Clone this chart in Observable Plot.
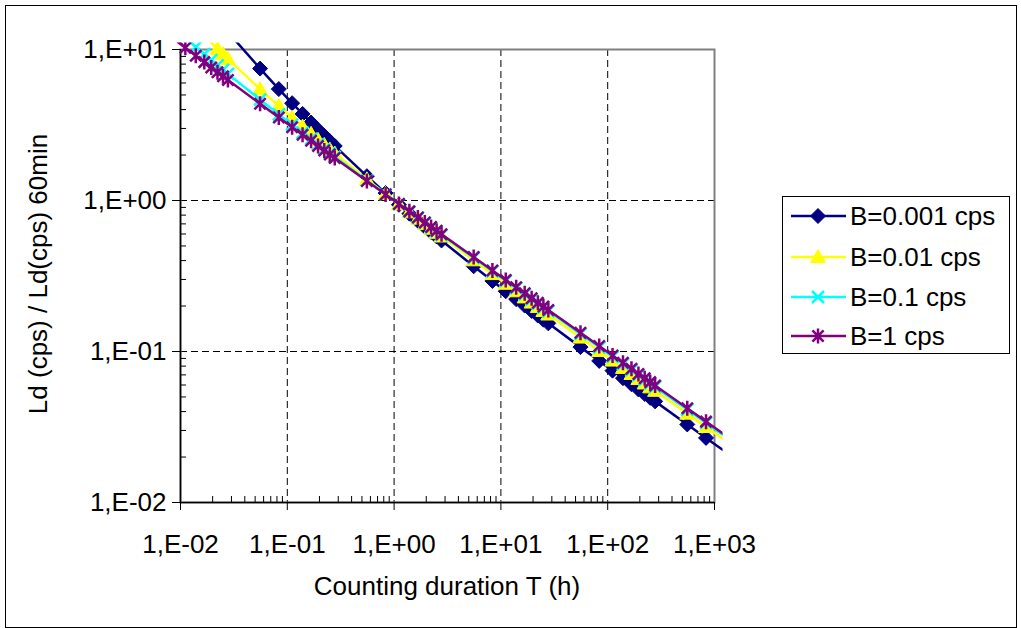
<!DOCTYPE html>
<html>
<head>
<meta charset="utf-8">
<script src="https://cdn.jsdelivr.net/npm/d3@7"></script>
<script src="https://cdn.jsdelivr.net/npm/@observablehq/plot@0.6"></script>
<style>
  body { margin: 0; background: #fff; }
  #wrap { position: relative; width: 1021px; height: 628px; overflow: hidden; font-family: "Liberation Sans", Arial, sans-serif; background:#fff; }
  #outer { position: absolute; left: 5px; top: 5px; width: 1010px; height: 621px; border: 1px solid #000; }
  #chart { position: absolute; left: 0; top: 0; }
  #legend { position: absolute; left: 782px; top: 196px; width: 226px; height: 156px; border: 1px solid #000; background: #fff; }
</style>
</head>
<body>
<div id="wrap">
  <div id="outer"></div>
  <div id="chart"></div>
  <div id="legend"></div>
</div>
<script>
// Counting duration T (h)
const durationH = [0.00833, 0.0111, 0.0139, 0.0167, 0.0194, 0.0222, 0.025, 0.0278,
  0.0556, 0.0833, 0.111, 0.139, 0.167, 0.194, 0.222, 0.25, 0.278,
  0.556, 0.833, 1.11, 1.39, 1.67, 1.94, 2.22, 2.5, 2.78,
  5.56, 8.33, 11.1, 13.9, 16.7, 19.4, 22.2, 25, 27.8,
  55.6, 83.3, 111, 139, 167, 194, 222, 250, 278,
  556, 833, 1111, 1389];

// Ld(cps) / Ld(cps) 60min for each background
const b0001 = [36.58, 28.41, 23.41, 20.02, 17.57, 15.71, 14.24, 13.05,
  7.475, 5.470, 4.410, 3.745, 3.284, 2.943, 2.680, 2.470, 2.297,
  1.449, 1.120, 0.9372, 0.8183, 0.7336, 0.6695, 0.6189, 0.5778, 0.5436,
  0.3669, 0.2932, 0.2507, 0.2222, 0.2015, 0.1856, 0.1729, 0.1624, 0.1536,
  0.1069, 0.08662, 0.07469, 0.06661, 0.06067, 0.05607, 0.05238, 0.04932, 0.04675,
  0.03288, 0.02678, 0.02316, 0.02070];
const b001 = [20.61, 16.61, 14.11, 12.37, 11.09, 10.10, 9.306, 8.656,
  5.461, 4.220, 3.531, 3.083, 2.764, 2.522, 2.332, 2.177, 2.048,
  1.382, 1.105, 0.9444, 0.8371, 0.7591, 0.6992, 0.6513, 0.6119, 0.5788,
  0.4026, 0.3264, 0.2814, 0.2509, 0.2286, 0.2113, 0.1973, 0.1858, 0.1761,
  0.1239, 0.1009, 0.08727, 0.07798, 0.07113, 0.06582, 0.06154, 0.05800, 0.05501,
  0.03883, 0.03168, 0.02742, 0.02452];
const b01 = [14.20, 11.89, 10.38, 9.303, 8.490, 7.849, 7.328, 6.894,
  4.653, 3.718, 3.179, 2.818, 2.555, 2.353, 2.192, 2.060, 1.948,
  1.355, 1.099, 0.9472, 0.8447, 0.7694, 0.7111, 0.6642, 0.6255, 0.5928,
  0.4170, 0.3397, 0.2937, 0.2625, 0.2394, 0.2216, 0.2072, 0.1952, 0.1852,
  0.1307, 0.1066, 0.09231, 0.08254, 0.07533, 0.06973, 0.06522, 0.06148, 0.05832,
  0.04122, 0.03364, 0.02913, 0.02605];
const b1 = [12.00, 10.26, 9.096, 8.249, 7.597, 7.077, 6.649, 6.289,
  4.375, 3.546, 3.058, 2.727, 2.484, 2.295, 2.144, 2.019, 1.914,
  1.346, 1.096, 0.9482, 0.8473, 0.7729, 0.7152, 0.6687, 0.6302, 0.5977,
  0.4219, 0.3442, 0.2980, 0.2664, 0.2432, 0.2251, 0.2105, 0.1985, 0.1883,
  0.1330, 0.1086, 0.09404, 0.08411, 0.07677, 0.07107, 0.06648, 0.06268, 0.05946,
  0.04204, 0.03432, 0.02972, 0.02658];

const seriesNames = ["B=0.001 cps", "B=0.01 cps", "B=0.1 cps", "B=1 cps"];
const seriesColors = ["#000080", "#FFFF00", "#00FFFF", "#800080"];
const seriesValues = [b0001, b001, b01, b1];

const xTicks = [0.01, 0.1, 1, 10, 100, 1000];
const xTickLabels = ["1,E-02", "1,E-01", "1,E+00", "1,E+01", "1,E+02", "1,E+03"];
const yTicks = [0.01, 0.1, 1, 10];
const yTickLabels = ["1,E-02", "1,E-01", "1,E+00", "1,E+01"];
const xMinor = [0.02,0.03,0.04,0.05,0.06,0.07,0.08,0.09, 0.2,0.3,0.4,0.5,0.6,0.7,0.8,0.9,
  2,3,4,5,6,7,8,9, 20,30,40,50,60,70,80,90, 200,300,400,500,600,700,800,900];
const yMinor = [0.02,0.03,0.04,0.05,0.06,0.07,0.08,0.09, 0.2,0.3,0.4,0.5,0.6,0.7,0.8,0.9,
  2,3,4,5,6,7,8,9];

// custom Excel-like marker shapes
const symDiamond = { draw(c, size) { const r = Math.sqrt(size / Math.PI); c.moveTo(0, -r); c.lineTo(r, 0); c.lineTo(0, r); c.lineTo(-r, 0); c.closePath(); } };
const symTriangle = { draw(c, size) { const r = Math.sqrt(size / Math.PI); c.moveTo(0, -r); c.lineTo(r, r * 0.75); c.lineTo(-r, r * 0.75); c.closePath(); } };
const symTimes = { draw(c, size) { const r = Math.sqrt(size / Math.PI) * 0.8; c.moveTo(-r, -r); c.lineTo(r, r); c.moveTo(-r, r); c.lineTo(r, -r); } };
const symAsterisk = { draw(c, size) { const r = Math.sqrt(size / Math.PI); const k = r * 0.75; c.moveTo(-k, -k); c.lineTo(k, k); c.moveTo(-k, k); c.lineTo(k, -k); c.moveTo(0, -r); c.lineTo(0, r); } };
const seriesSymbols = [symDiamond, symTriangle, symTimes, symAsterisk];
const seriesFilled = [true, true, false, false];

const xLab = new Map(xTicks.map((t, i) => [t, xTickLabels[i]]));
const yLab = new Map(yTicks.map((t, i) => [t, yTickLabels[i]]));

const seriesMarks = [];
seriesValues.forEach((vals, s) => {
  const data = durationH.map((t, i) => ({ T: t, v: vals[i] }));
  seriesMarks.push(Plot.line(data, { x: "T", y: "v", stroke: seriesColors[s], strokeWidth: 2.5 }));
  seriesMarks.push(Plot.dot(data, {
    x: "T", y: "v", r: 7.5, symbol: seriesSymbols[s],
    filter: d => d.T <= 1000 && d.v <= 10.5,
    fill: seriesFilled[s] ? seriesColors[s] : "none",
    stroke: seriesColors[s], strokeWidth: seriesFilled[s] ? 1 : 2.5
  }));
});

const chart = Plot.plot({
  width: 1021, height: 628,
  marginLeft: 180, marginRight: 307, marginTop: 49, marginBottom: 126,
  style: { fontFamily: "'Liberation Sans', Arial, sans-serif", fontSize: "26px", color: "#000", background: "transparent", overflow: "visible" },
  x: { type: "log", domain: [0.01, 1000], label: null },
  y: { type: "log", domain: [0.01, 10], label: null },
  marks: [
    Plot.ruleX(xTicks.slice(1, -1), { stroke: "#000", strokeDasharray: "7,4", strokeWidth: 1 }),
    Plot.ruleY(yTicks.slice(1, -1), { stroke: "#000", strokeDasharray: "7,4", strokeWidth: 1 }),
    Plot.frame({ stroke: "#808080", strokeWidth: 2 }),
    Plot.ruleX([0.01], { stroke: "#000", strokeWidth: 1.5 }),
    Plot.ruleY([0.01], { stroke: "#000", strokeWidth: 1.5 }),
    Plot.tickX(xMinor, { x: d => d, insetTop: 447, stroke: "#000" }),
    Plot.tickY(yMinor, { y: d => d, insetRight: 528, stroke: "#000" }),
    Plot.axisX({ ticks: xTicks, tickFormat: d => xLab.get(d), tickSize: 8, tickPadding: 24, fontSize: 26, label: null }),
    Plot.axisY({ ticks: yTicks, tickFormat: d => yLab.get(d), tickSize: 8, tickPadding: 6, fontSize: 26, label: null }),
    ...seriesMarks
  ]
});

document.getElementById("chart").appendChild(chart);

const svg = d3.select(chart);
const defs = svg.insert("defs", ":first-child");
defs.append("clipPath").attr("id", "plotclip").append("rect")
  .attr("x", 176).attr("y", 42).attr("width", 546).attr("height", 470);
svg.selectAll('g[aria-label="line"], g[aria-label="dot"]').attr("clip-path", "url(#plotclip)");

svg.append("text").attr("transform", "translate(40,274) rotate(-90)")
  .attr("text-anchor", "middle").attr("dominant-baseline", "middle")
  .attr("font-size", 26).attr("fill", "#000").text("Ld (cps) / Ld(cps) 60min");
svg.append("text").attr("x", 447).attr("y", 595)
  .attr("text-anchor", "middle").attr("font-size", 26).attr("fill", "#000")
  .text("Counting duration T (h)");

// legend
const lg = d3.select("#legend").append("svg").attr("width", 226).attr("height", 156)
  .style("font-family", "'Liberation Sans', Arial, sans-serif");
const rowY = [19, 60, 100, 139];
seriesNames.forEach((name, s) => {
  const y = rowY[s];
  lg.append("line").attr("x1", 8).attr("x2", 63).attr("y1", y).attr("y2", y)
    .attr("stroke", seriesColors[s]).attr("stroke-width", 2.5);
  lg.append("path").attr("transform", `translate(35,${y})`)
    .attr("d", d3.symbol(seriesSymbols[s], 7.5 * 7.5 * Math.PI)())
    .attr("fill", seriesFilled[s] ? seriesColors[s] : "none")
    .attr("stroke", seriesColors[s]).attr("stroke-width", seriesFilled[s] ? 1 : 2.5);
  lg.append("text").attr("x", 67).attr("y", y + 9).attr("font-size", 26).attr("fill", "#000").text(name);
});
</script>
</body>
</html>
